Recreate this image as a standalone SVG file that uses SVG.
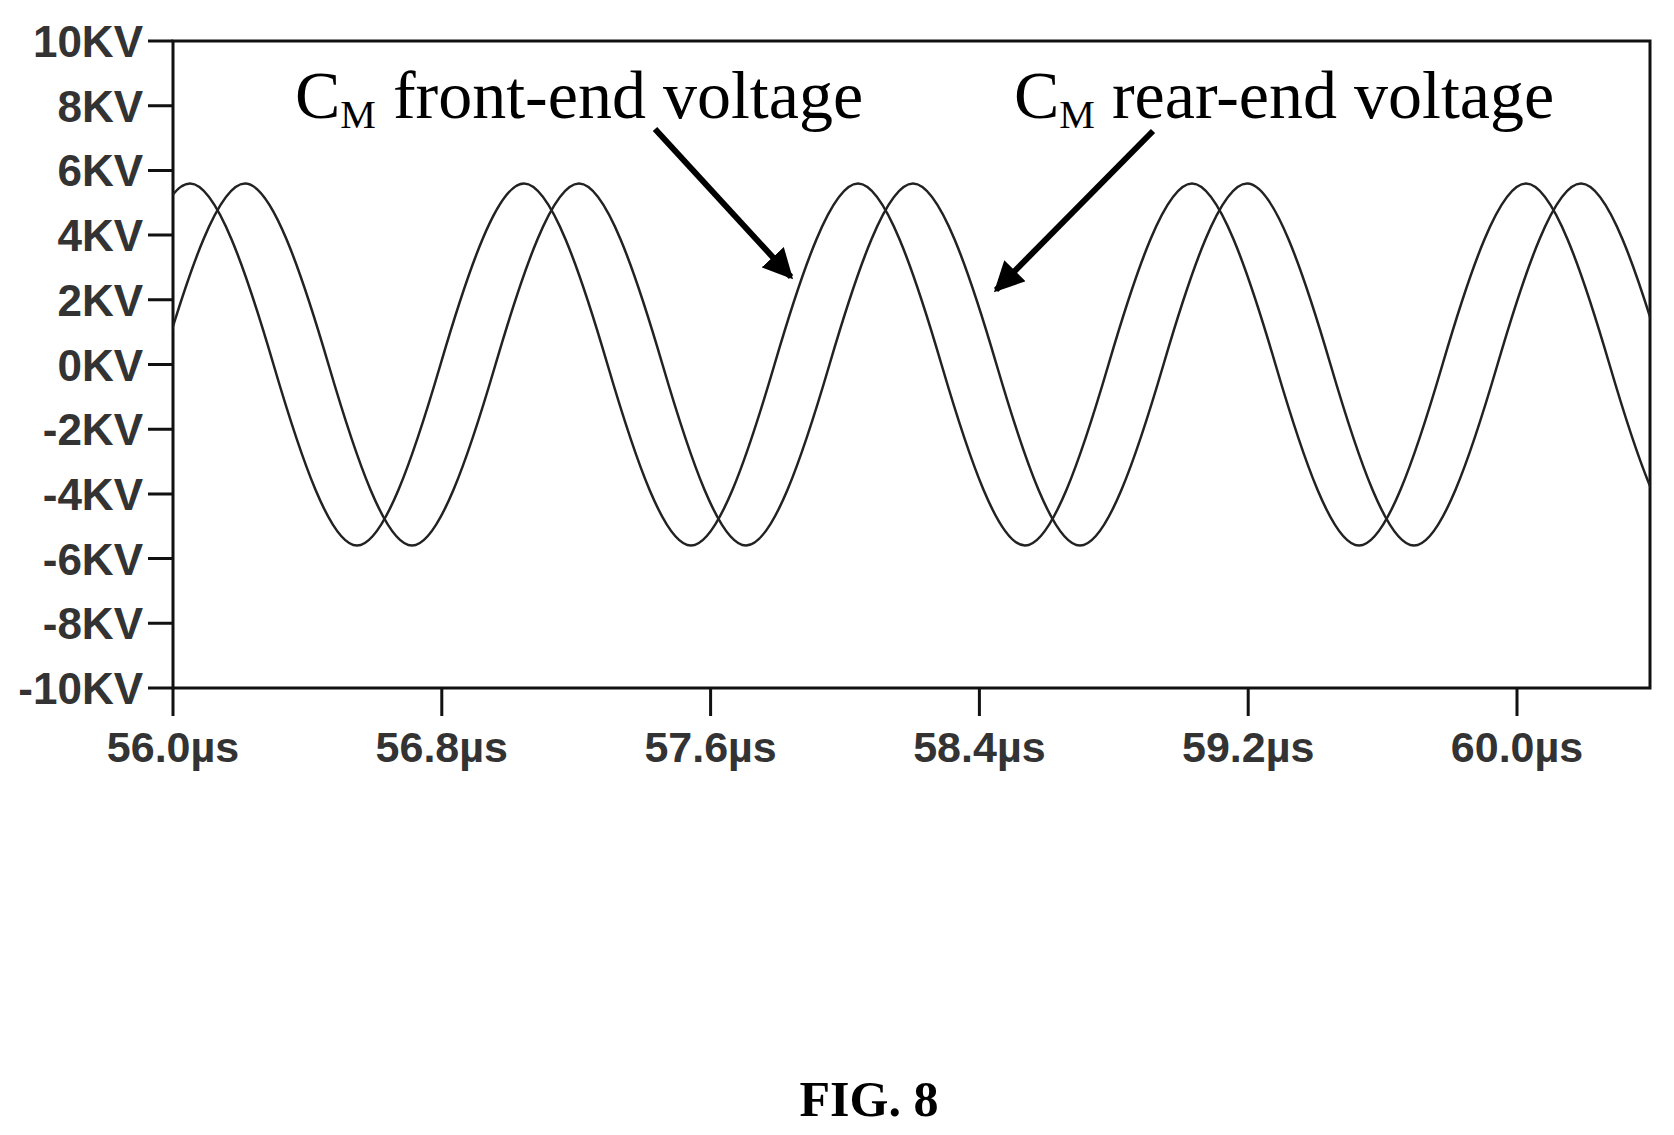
<svg xmlns="http://www.w3.org/2000/svg" width="1674" height="1135" viewBox="0 0 1674 1135">
<style>
.yl{font-family:"Liberation Sans",Arial,sans-serif;font-weight:bold;font-size:44px;fill:#333;text-anchor:end}
.xl{font-family:"Liberation Sans",Arial,sans-serif;font-weight:bold;font-size:43px;fill:#333;text-anchor:middle}
.lb{font-family:"Liberation Serif","Times New Roman",serif;font-size:68px;fill:#000}
.ax{stroke:#111;stroke-width:3;fill:none}
.w{stroke:#222;stroke-width:2.5;fill:none}
</style>
<defs>
<clipPath id="pc"><rect x="173" y="41" width="1477" height="647"/></clipPath>
<marker id="ah" viewBox="0 0 10 10" refX="9" refY="5" markerWidth="5" markerHeight="5" orient="auto" markerUnits="strokeWidth"><path d="M0,0 L10,5 L0,10 z" fill="#000"/></marker>
</defs>
<g id="axes">
<rect class="ax" x="173" y="41" width="1477" height="647"/>
<path class="ax" d="M148 41H173M148 105.7H173M148 170.4H173M148 235.1H173M148 299.8H173M148 364.5H173M148 429.2H173M148 493.9H173M148 558.6H173M148 623.3H173M148 688H173"/>
<path class="ax" d="M173 688V716M441.8 688V716M710.6 688V716M979.4 688V716M1248.2 688V716M1517 688V716"/>
</g>
<g id="ylabels">
<text class="yl" x="143" y="57">10KV</text>
<text class="yl" x="143" y="121.7">8KV</text>
<text class="yl" x="143" y="186.4">6KV</text>
<text class="yl" x="143" y="251.1">4KV</text>
<text class="yl" x="143" y="315.8">2KV</text>
<text class="yl" x="143" y="380.5">0KV</text>
<text class="yl" x="143" y="445.2">-2KV</text>
<text class="yl" x="143" y="509.9">-4KV</text>
<text class="yl" x="143" y="574.6">-6KV</text>
<text class="yl" x="143" y="639.3">-8KV</text>
<text class="yl" x="143" y="704">-10KV</text>
</g>
<g id="xlabels">
<text class="xl" x="173" y="762">56.0µs</text>
<text class="xl" x="441.8" y="762">56.8µs</text>
<text class="xl" x="710.6" y="762">57.6µs</text>
<text class="xl" x="979.4" y="762">58.4µs</text>
<text class="xl" x="1248.2" y="762">59.2µs</text>
<text class="xl" x="1517" y="762">60.0µs</text>
</g>
<g id="waves" clip-path="url(#pc)">
<path id="front" class="w" d="M106.5 364.5C133.73 271.8 163.42 183.5 190 183.5s56.27 88.3 83.5 181s56.92 181 83.5 181s56.27 -88.3 83.5 -181s56.92 -181 83.5 -181s56.27 88.3 83.5 181s56.92 181 83.5 181s56.27 -88.3 83.5 -181s56.92 -181 83.5 -181s56.27 88.3 83.5 181s56.92 181 83.5 181s56.27 -88.3 83.5 -181s56.92 -181 83.5 -181s56.27 88.3 83.5 181s56.92 181 83.5 181s56.27 -88.3 83.5 -181s56.92 -181 83.5 -181s56.27 88.3 83.5 181s56.92 181 83.5 181s56.27 -88.3 83.5 -181s56.92 -181 83.5 -181s56.27 88.3 83.5 181"/>
<path id="rear" class="w" d="M-172.5 364.5C-145.27 271.8 -115.58 183.5 -89 183.5s56.27 88.3 83.5 181s56.92 181 83.5 181s56.27 -88.3 83.5 -181s56.92 -181 83.5 -181s56.27 88.3 83.5 181s56.92 181 83.5 181s56.27 -88.3 83.5 -181s56.92 -181 83.5 -181s56.27 88.3 83.5 181s56.92 181 83.5 181s56.27 -88.3 83.5 -181s56.92 -181 83.5 -181s56.27 88.3 83.5 181s56.92 181 83.5 181s56.27 -88.3 83.5 -181s56.92 -181 83.5 -181s56.27 88.3 83.5 181s56.92 181 83.5 181s56.27 -88.3 83.5 -181s56.92 -181 83.5 -181s56.27 88.3 83.5 181s56.92 181 83.5 181s56.27 -88.3 83.5 -181s56.92 -181 83.5 -181s56.27 88.3 83.5 181"/>
</g>
<g id="connectors">
<line x1="655" y1="129" x2="791" y2="277" stroke="#000" stroke-width="6" marker-end="url(#ah)"/>
<line x1="1153" y1="131" x2="996" y2="290" stroke="#000" stroke-width="6" marker-end="url(#ah)"/>
</g>
<g id="label-front"><text class="lb" x="295" y="118">C<tspan font-size="40" dy="10">M</tspan><tspan dy="-10"> front-end voltage</tspan></text></g>
<g id="label-rear"><text class="lb" x="1014" y="118">C<tspan font-size="40" dy="10">M</tspan><tspan dy="-10"> rear-end voltage</tspan></text></g>
<g id="caption"><text x="869" y="1116" font-family="'Liberation Serif','Times New Roman',serif" font-weight="bold" font-size="50" text-anchor="middle">FIG. 8</text></g>
</svg>
